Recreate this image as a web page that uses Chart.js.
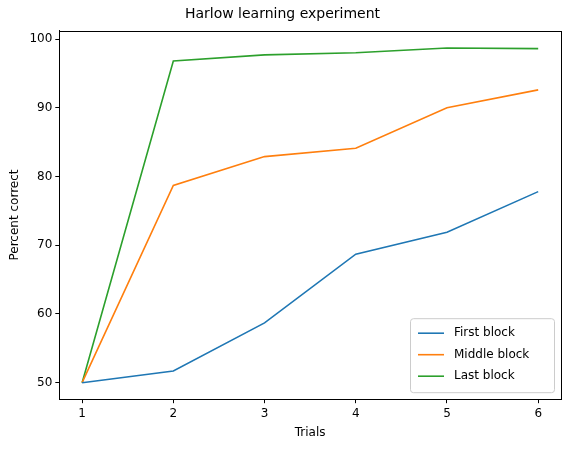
<!DOCTYPE html>
<html><head><meta charset="utf-8">
<script src="https://cdn.jsdelivr.net/npm/chart.js@4"></script>
<style>html,body{margin:0;padding:0;background:#fff}#w{width:572px;height:454px}</style>
</head><body><div id="w"><canvas id="c"></canvas></div>
<script>
const trials=[1,2,3,4,5,6];
const firstBlock=[50,51.7,58.7,68.7,71.9,77.8];
const middleBlock=[50,78.7,82.9,84.1,90,92.6];
const lastBlock=[50,96.8,97.7,98,98.7,98.6];
const seriesNames=['First block','Middle block','Last block'];
const colors=['#1f77b4','#ff7f0e','#2ca02c'];
const yTicks=[50,60,70,80,90,100];
const F='"DejaVu Sans"';
const mk=(arr,i)=>({label:seriesNames[i],data:trials.map((t,k)=>({x:t,y:arr[k]})),borderColor:colors[i],backgroundColor:colors[i],borderWidth:1.6,pointRadius:0,tension:0});
const legendPlugin={id:'lg',afterDraw(ch){const a=ch.chartArea,c=ch.ctx;const w=144,h=74,x=a.right-w-7,y=a.bottom-h-7;
c.save();c.strokeStyle='#000';c.lineWidth=1;c.strokeRect(Math.round(a.left)+.5,Math.round(a.top)+.5,Math.round(a.right-a.left),Math.round(a.bottom-a.top));
c.fillStyle='rgba(255,255,255,0.8)';c.strokeStyle='#ccc';c.beginPath();c.roundRect(x+.5,y+.5,w,h,3);c.fill();c.stroke();
c.font='12px '+F;c.textBaseline='middle';c.fillStyle='#000';
seriesNames.forEach((n,i)=>{const yy=y+15+i*21.5;c.strokeStyle=colors[i];c.lineWidth=1.6;c.beginPath();c.moveTo(x+8,yy);c.lineTo(x+34,yy);c.stroke();c.fillText(n,x+44,yy);});c.restore();}};
const grid={display:true,drawOnChartArea:false,drawTicks:true,tickLength:4,color:'#000'};
new Chart(document.getElementById('c'),{type:'line',data:{datasets:[mk(firstBlock,0),mk(middleBlock,1),mk(lastBlock,2)]},
options:{responsive:true,maintainAspectRatio:false,animation:false,devicePixelRatio:1,
layout:{padding:{left:4,right:11,top:0,bottom:10}},
plugins:{legend:{display:false},tooltip:{enabled:false},title:{display:true,text:'Harlow learning experiment',color:'#000',font:{family:F,size:14,weight:'normal'},padding:{top:6,bottom:8}}},
scales:{x:{type:'linear',min:0.75,max:6.25,grid:grid,border:{color:'#000'},
ticks:{color:'#000',font:{family:F,size:12},padding:3,callback:v=>Number.isInteger(v)?v:''},afterBuildTicks:s=>{s.ticks=trials.map(v=>({value:v}))},
title:{display:true,text:'Trials',color:'#000',font:{family:F,size:12},padding:{top:2}}},
y:{min:47.6,max:101.2,grid:grid,border:{color:'#000'},
ticks:{color:'#000',font:{family:F,size:12},padding:3},afterBuildTicks:s=>{s.ticks=yTicks.map(v=>({value:v}))},
title:{display:true,text:'Percent correct',color:'#000',font:{family:F,size:12}}}}},
plugins:[legendPlugin]});
</script></body></html>
